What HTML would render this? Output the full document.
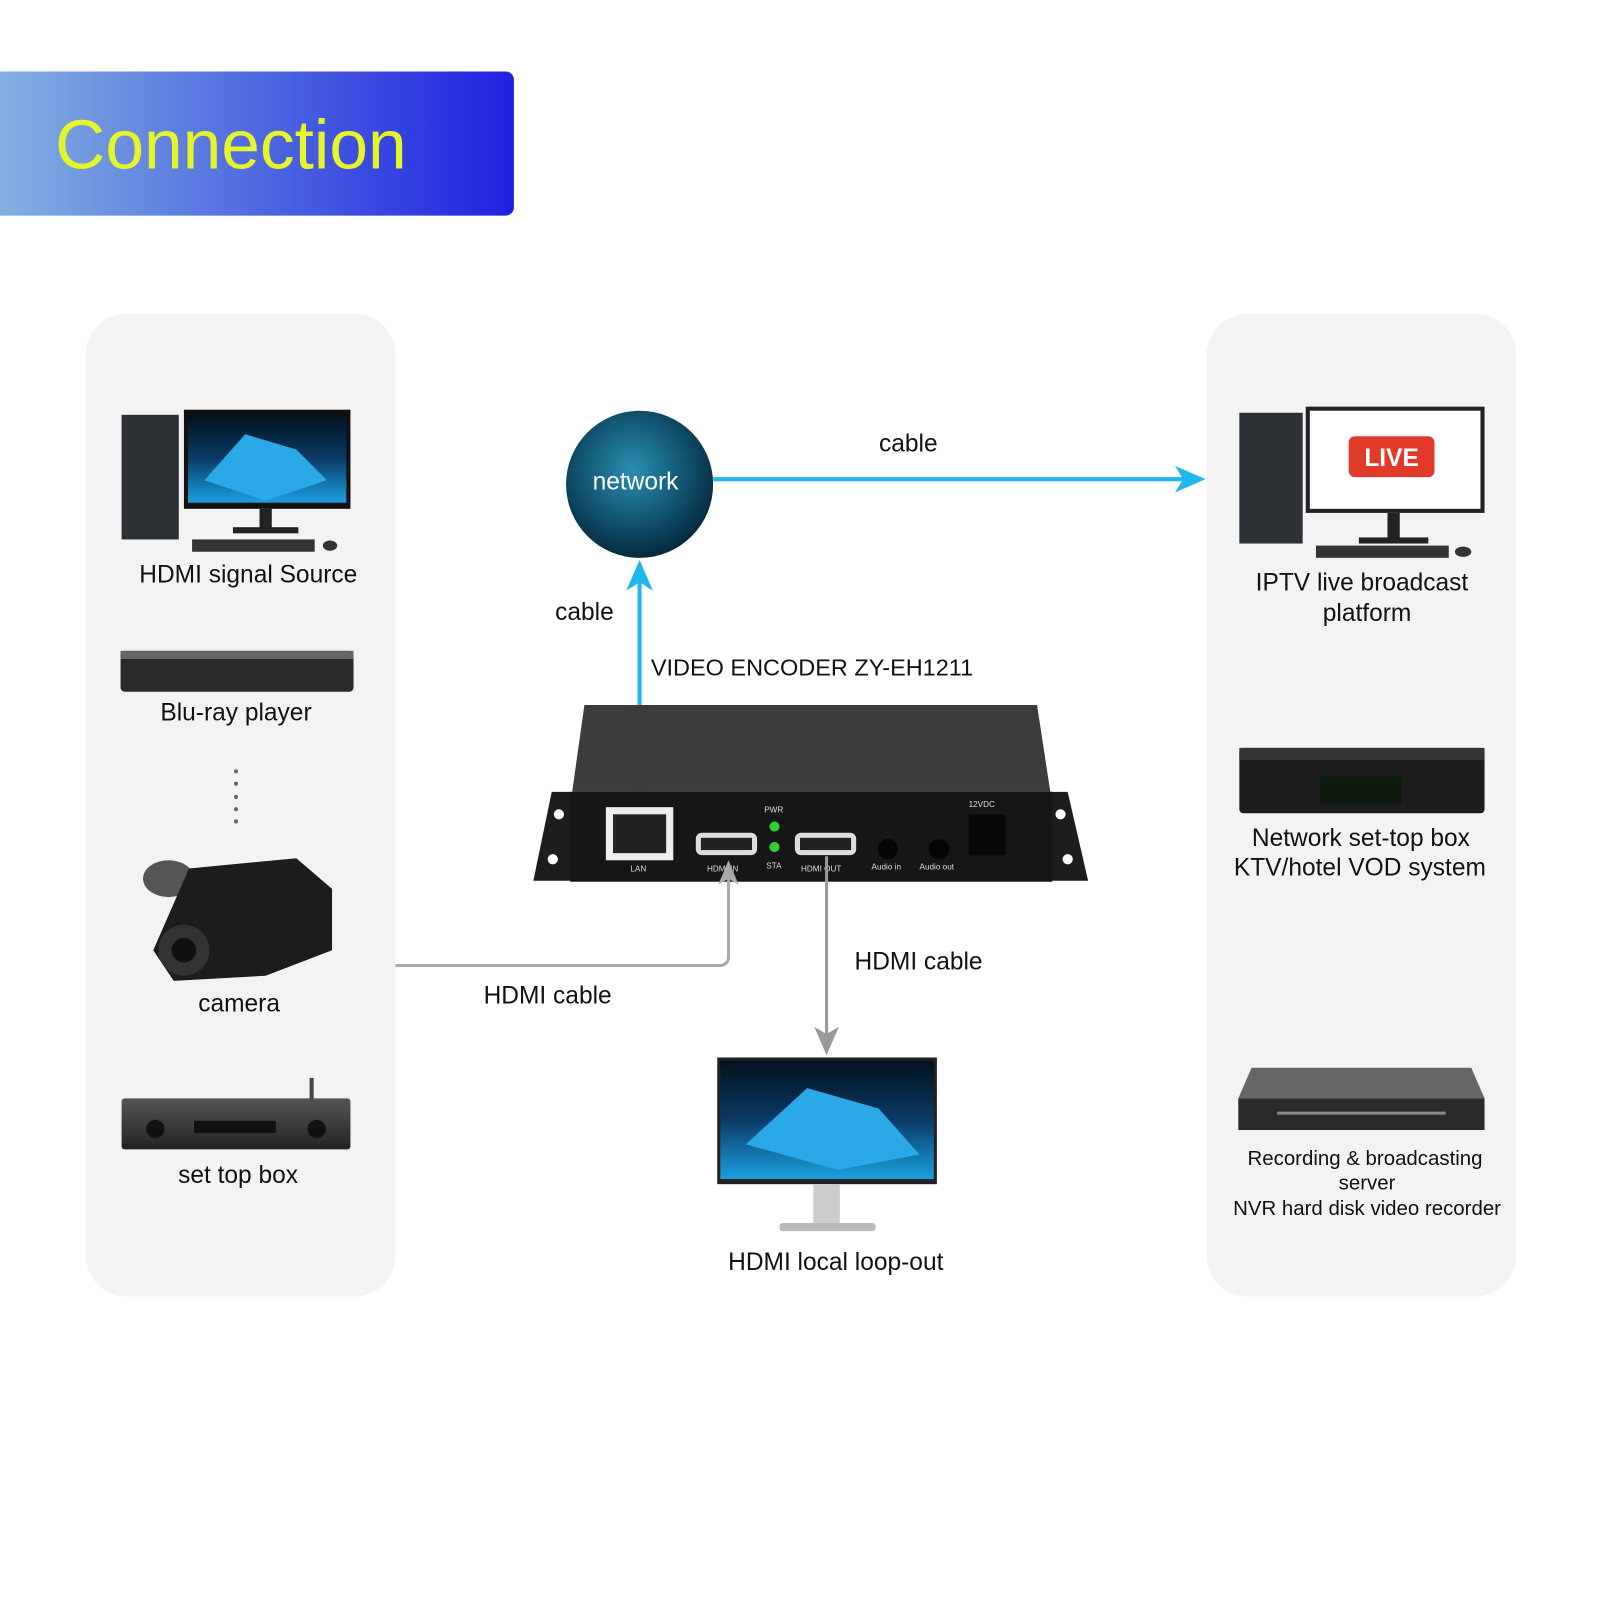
<!DOCTYPE html>
<html><head><meta charset="utf-8"><style>
html,body{margin:0;padding:0;background:#fff;}
svg{display:block;}
text{font-family:"Liberation Sans","DejaVu Sans",sans-serif;fill:#111;}
</style></head><body>
<svg width="1600" height="1600" viewBox="0 0 1566 1566" xmlns="http://www.w3.org/2000/svg">
<defs>
<linearGradient id="hg" x1="0" x2="1"><stop offset="0" stop-color="#84b0e0"/><stop offset="0.55" stop-color="#4a62e0"/><stop offset="1" stop-color="#2020e0"/></linearGradient>
<radialGradient id="glob" cx="0.45" cy="0.4" r="0.6"><stop offset="0" stop-color="#2a8fb0"/><stop offset="0.7" stop-color="#0d4a66"/><stop offset="1" stop-color="#062a3c"/></radialGradient>
<linearGradient id="scr" x1="0" y1="0" x2="0" y2="1"><stop offset="0" stop-color="#02101c"/><stop offset="0.5" stop-color="#0b3a66"/><stop offset="1" stop-color="#1aa0e0"/></linearGradient>
<linearGradient id="box" x1="0" y1="0" x2="0" y2="1"><stop offset="0" stop-color="#555"/><stop offset="1" stop-color="#222"/></linearGradient>
</defs>
<rect width="1566" height="1566" fill="#fff"/>
<path d="M0 70 H495 a8 8 0 0 1 8 8 V203 a8 8 0 0 1 -8 8 H0 Z" fill="url(#hg)"/>
<text x="54" y="165" font-size="68" style="fill:#e4f52a">Connection</text>

<rect x="84" y="307" width="303" height="962" rx="40" fill="#f3f3f3"/>
<rect x="1181" y="307" width="303" height="962" rx="40" fill="#f3f3f3"/>

<!-- PC source -->
<rect x="119" y="406" width="56" height="122" fill="#2d3035"/>
<rect x="180" y="401" width="163" height="97" fill="#111"/>
<rect x="184" y="405" width="155" height="87" fill="url(#scr)"/>
<polygon points="200,470 240,425 290,440 320,470 260,490" fill="#2aa8e8"/>
<rect x="254" y="498" width="12" height="20" fill="#222"/><rect x="228" y="516" width="64" height="6" fill="#222"/>
<rect x="188" y="528" width="120" height="12" fill="#333"/><ellipse cx="323" cy="534" rx="7" ry="5" fill="#333"/>
<text x="243" y="570" font-size="24" text-anchor="middle">HDMI signal Source</text>

<!-- bluray -->
<rect x="118" y="637" width="228" height="40" rx="4" fill="#2a2a2a"/>
<rect x="118" y="637" width="228" height="8" fill="#666"/>
<text x="231" y="705" font-size="24" text-anchor="middle">Blu-ray player</text>
<g fill="#666"><circle cx="231" cy="755" r="2"/><circle cx="231" cy="767" r="2"/><circle cx="231" cy="780" r="2"/><circle cx="231" cy="792" r="2"/><circle cx="231" cy="804" r="2"/></g>

<!-- camera -->
<ellipse cx="165" cy="860" rx="25" ry="18" fill="#555"/>
<path d="M185 850 L290 840 L325 870 L325 930 L260 955 L170 960 L150 930 Z" fill="#1c1c1c"/>
<circle cx="180" cy="930" r="25" fill="#333"/><circle cx="180" cy="930" r="12" fill="#111"/>
<text x="234" y="990" font-size="24" text-anchor="middle">camera</text>

<!-- set top box -->
<rect x="303" y="1055" width="4" height="25" fill="#444"/>
<rect x="119" y="1075" width="224" height="50" rx="3" fill="url(#box)"/>
<rect x="190" y="1097" width="80" height="12" fill="#111"/>
<circle cx="152" cy="1105" r="9" fill="#111"/><circle cx="310" cy="1105" r="9" fill="#111"/>
<text x="233" y="1158" font-size="24" text-anchor="middle">set top box</text>

<!-- network globe -->
<circle cx="626" cy="474" r="72" fill="url(#glob)"/>
<text x="622" y="479" font-size="24" text-anchor="middle" style="fill:#fff">network</text>

<!-- blue connectors -->
<line x1="698" y1="469" x2="1160" y2="469" stroke="#20b8ec" stroke-width="4"/>
<polygon points="1180,469 1150,456 1158,469 1150,482" fill="#20b8ec"/>
<text x="889" y="442" font-size="24" text-anchor="middle">cable</text>
<line x1="626" y1="570" x2="626" y2="805" stroke="#20b8ec" stroke-width="4"/>
<polygon points="626,548 613,578 626,570 639,578" fill="#20b8ec"/>
<text x="572" y="607" font-size="24" text-anchor="middle">cable</text>
<text x="637" y="661" font-size="23">VIDEO ENCODER ZY-EH1211</text>

<!-- encoder -->
<polygon points="572,690 1015,690 1028,775 560,775" fill="#3c3c3c"/>
<polygon points="540,775 1045,775 1065,862 522,862" fill="#1d1d1d"/>
<rect x="558" y="775" width="472" height="88" fill="#161616"/>
<circle cx="547" cy="797" r="5" fill="#fff"/><circle cx="541" cy="841" r="5" fill="#fff"/>
<circle cx="1038" cy="797" r="5" fill="#fff"/><circle cx="1045" cy="841" r="5" fill="#fff"/>
<rect x="593" y="790" width="66" height="52" fill="#eee"/><rect x="600" y="797" width="52" height="38" fill="#222"/>
<rect x="681" y="815" width="60" height="22" rx="6" fill="#ddd"/><rect x="686" y="820" width="50" height="12" fill="#222"/>
<rect x="778" y="815" width="60" height="22" rx="6" fill="#ddd"/><rect x="783" y="820" width="50" height="12" fill="#222"/>
<circle cx="758" cy="809" r="5" fill="#3c3"/><circle cx="758" cy="829" r="5" fill="#3c3"/>
<circle cx="869" cy="831" r="10" fill="#050505"/><circle cx="919" cy="831" r="10" fill="#050505"/>
<rect x="948" y="797" width="36" height="40" fill="#080808"/>
<g font-size="8"><text x="617" y="853" style="fill:#ddd">LAN</text><text x="692" y="853" style="fill:#ddd">HDMI IN</text><text x="750" y="850" style="fill:#ddd">STA</text><text x="784" y="853" style="fill:#ddd">HDMI OUT</text><text x="853" y="851" style="fill:#ddd">Audio in</text><text x="900" y="851" style="fill:#ddd">Audio out</text><text x="948" y="790" style="fill:#ddd">12VDC</text><text x="748" y="795" style="fill:#ddd">PWR</text></g>

<!-- gray connectors -->
<path d="M387 945 H705 a8 8 0 0 0 8 -8 V858" fill="none" stroke="#aaa" stroke-width="3"/>
<polygon points="713,842 703,866 713,860 723,866" fill="#aaa"/>
<text x="536" y="982" font-size="24" text-anchor="middle">HDMI cable</text>
<line x1="809" y1="838" x2="809" y2="1015" stroke="#999" stroke-width="3"/>
<polygon points="809,1033 797,1005 809,1012 821,1005" fill="#999"/>
<text x="899" y="949" font-size="24" text-anchor="middle">HDMI cable</text>

<!-- loop-out monitor -->
<rect x="702" y="1035" width="215" height="124" fill="#222"/>
<rect x="705" y="1038" width="209" height="116" fill="url(#scr)"/>
<polygon points="730,1120 790,1065 860,1085 900,1130 820,1145" fill="#2aa8e8"/>
<rect x="796" y="1159" width="26" height="38" fill="#ccc"/><rect x="763" y="1197" width="94" height="8" rx="3" fill="#bbb"/>
<text x="818" y="1243" font-size="24" text-anchor="middle">HDMI local loop-out</text>

<!-- IPTV -->
<rect x="1213" y="404" width="62" height="128" fill="#2d3035"/>
<rect x="1278" y="398" width="175" height="104" fill="#222"/>
<rect x="1282" y="402" width="167" height="96" fill="#fff"/>
<rect x="1320" y="427" width="84" height="40" rx="6" fill="#e03a2a"/>
<text x="1362" y="456" font-size="24" font-weight="bold" text-anchor="middle" style="fill:#fff">LIVE</text>
<rect x="1358" y="502" width="12" height="26" fill="#222"/><rect x="1330" y="526" width="68" height="6" fill="#222"/>
<rect x="1288" y="534" width="130" height="12" fill="#333"/><ellipse cx="1432" cy="540" rx="8" ry="5" fill="#333"/>
<text x="1333" y="578" font-size="24" text-anchor="middle">IPTV live broadcast</text>
<text x="1338" y="608" font-size="24" text-anchor="middle">platform</text>

<!-- network stb -->
<rect x="1213" y="732" width="240" height="64" rx="4" fill="#1c1c1c"/>
<rect x="1213" y="732" width="240" height="12" fill="#333"/>
<rect x="1292" y="760" width="80" height="26" fill="#0c1a0c"/>
<text x="1332" y="828" font-size="24" text-anchor="middle">Network set-top box</text>
<text x="1331" y="857" font-size="24" text-anchor="middle">KTV/hotel VOD system</text>

<!-- recorder -->
<polygon points="1225,1045 1440,1045 1453,1075 1212,1075" fill="#666"/>
<rect x="1212" y="1075" width="241" height="31" fill="#2a2a2a"/>
<rect x="1250" y="1088" width="165" height="3" fill="#888"/>
<text x="1336" y="1140" font-size="20" text-anchor="middle">Recording &amp; broadcasting</text>
<text x="1338" y="1164" font-size="20" text-anchor="middle">server</text>
<text x="1338" y="1189" font-size="20" text-anchor="middle">NVR hard disk video recorder</text>
</svg>
</body></html>
